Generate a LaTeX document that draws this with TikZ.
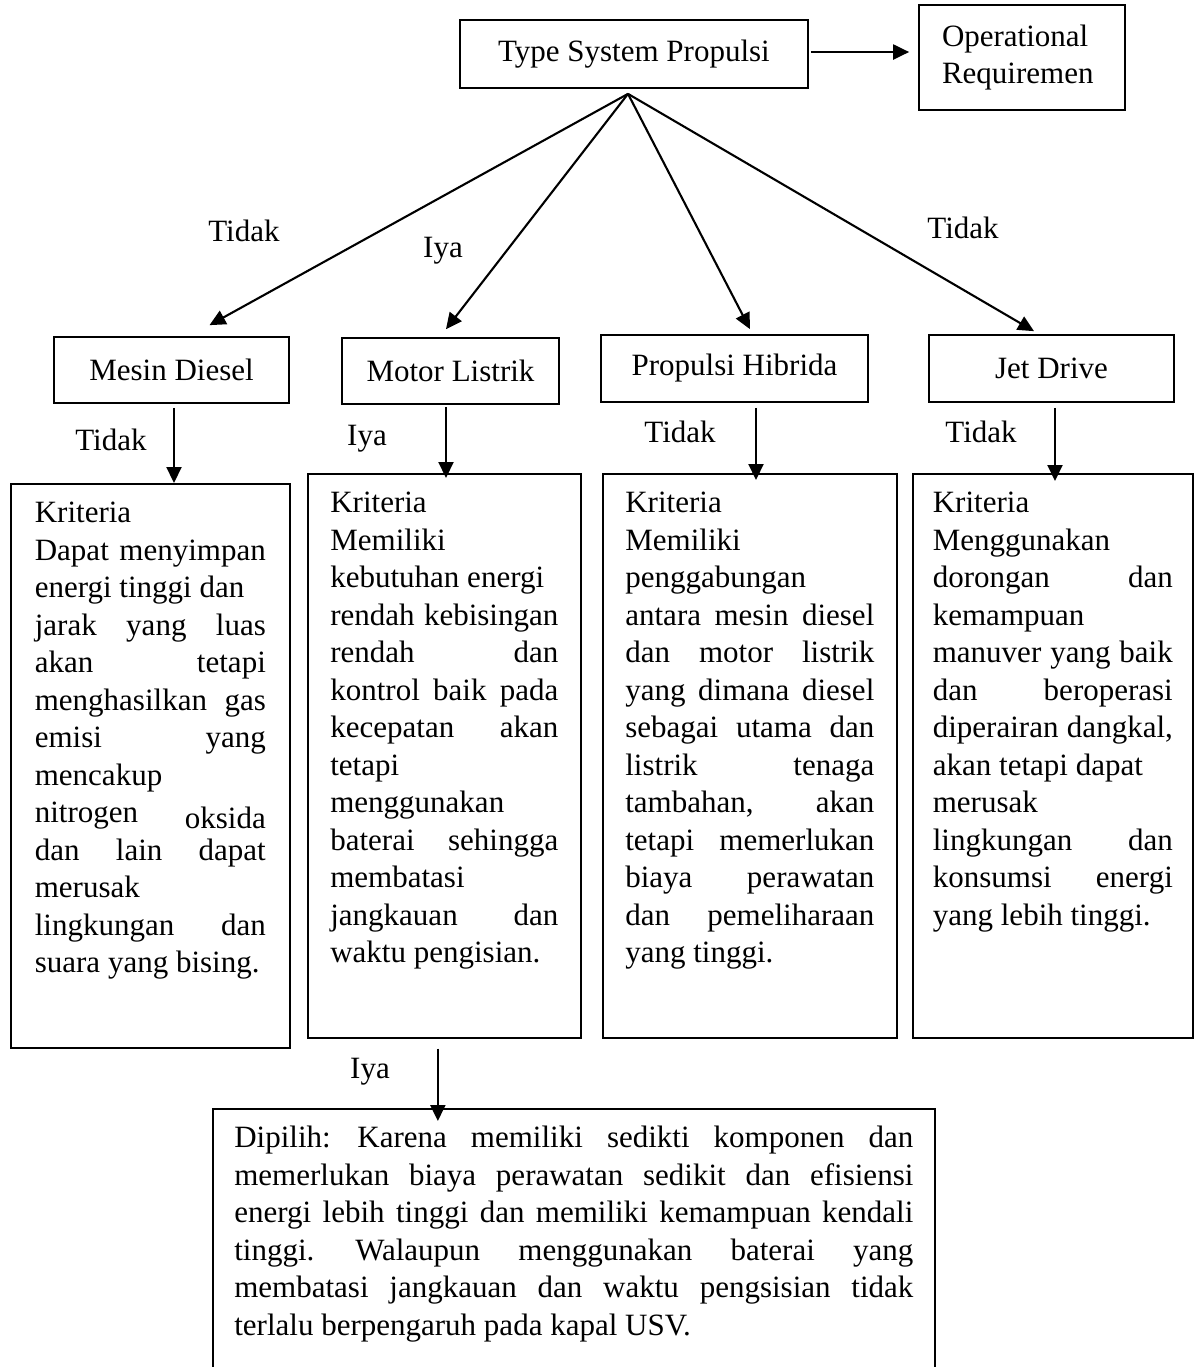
\documentclass[tikz,border=0pt]{standalone}
\usepackage{fontspec}
\setmainfont{Liberation Serif}
\usetikzlibrary{arrows.meta,calc}
\newcommand{\critbox}[3]{\parbox[c][#2][t]{#1}{\rule{0pt}{19.5pt}#3}}
\begin{document}
\begin{tikzpicture}[x=0.5pt,y=-0.5pt,
  every node/.style={font=\fontsize{15.5pt}{18.75pt}\selectfont},
  box/.style={draw,line width=0.85pt,inner sep=0pt},
  arr/.style={line width=1.05pt,-{Triangle[length=8pt,width=7.5pt]}},
  lbl/.style={anchor=base,inner sep=0pt}]
\useasboundingbox (0,0) rectangle (1195,1367);
\clip (0,0) rectangle (1195,1367);

% top level
\node[box,minimum width=174pt,minimum height=34pt] (top) at (634,54) {Type System Propulsi};
\node[box,minimum height=52.5pt,text width=80pt,inner xsep=11.5pt,align=left] (op) at (1022,57.5) {Operational\\Requiremen};

% second level
\node[box,minimum width=117.5pt,minimum height=33pt] (md) at (171.5,370) {Mesin Diesel};
\node[box,minimum width=108.5pt,minimum height=33pt] (ml) at (450.5,371) {Motor Listrik};
\node[box,minimum width=133.5pt,minimum height=33.5pt] (ph) at (734.5,368.5) {Propulsi Hibrida};
\node[box,minimum width=122.5pt,minimum height=33.5pt] (jd) at (1051.5,368.5) {Jet Drive};

% criteria boxes
\node[box,anchor=north west,inner xsep=12pt] (k1) at (10,483) {\critbox{115.5pt}{282pt}{Kriteria\\
Dapat \hfill menyimpan\\
energi tinggi dan\\
jarak \hfill yang \hfill luas\\
akan \hfill tetapi\\
menghasilkan \hfill gas\\
emisi \hfill yang\\
mencakup\\
nitrogen \hfill \raisebox{-3pt}{oksida}\\
dan \hfill lain \hfill dapat\\
merusak\\
lingkungan \hfill dan\\
suara yang bising.}};

\node[box,anchor=north west,inner xsep=11.25pt] (k2) at (307,473) {\critbox{114pt}{282pt}{Kriteria\\
Memiliki\\
kebutuhan energi\\
rendah \hfill kebisingan\\
rendah \hfill dan\\
kontrol \hfill baik \hfill pada\\
kecepatan \hfill akan\\
tetapi\\
menggunakan\\
baterai \hfill sehingga\\
membatasi\\
jangkauan \hfill dan\\
waktu pengisian.}};

\node[box,anchor=north west,inner xsep=11.25pt] (k3) at (602,473) {\critbox{124.5pt}{282pt}{Kriteria\\
Memiliki\\
penggabungan\\
antara \hfill mesin \hfill diesel\\
dan \hfill motor \hfill listrik\\
yang \hfill dimana \hfill diesel\\
sebagai \hfill utama \hfill dan\\
listrik \hfill tenaga\\
tambahan, \hfill akan\\
tetapi \hfill memerlukan\\
biaya \hfill perawatan\\
dan \hfill pemeliharaan\\
yang tinggi.}};

\node[box,anchor=north west,inner xsep=10pt] (k4) at (912,473) {\critbox{120pt}{282pt}{Kriteria\\
Menggunakan\\
dorongan \hfill dan\\
kemampuan\\
manuver \hfill yang \hfill baik\\
dan \hfill beroperasi\\
diperairan \hfill dangkal,\\
akan tetapi dapat\\
merusak\\
lingkungan \hfill dan\\
konsumsi \hfill energi\\
yang lebih tinggi.}};

% final box
\node[box,anchor=north west,inner xsep=10.75pt] (fin) at (212,1108) {\critbox{339.5pt}{146pt}{Dipilih: \hfill Karena \hfill memiliki \hfill sedikti \hfill komponen \hfill dan\\
memerlukan \hfill biaya \hfill perawatan \hfill sedikit \hfill dan \hfill efisiensi\\
energi \hfill lebih \hfill tinggi \hfill dan \hfill memiliki \hfill kemampuan \hfill kendali\\
tinggi. \hfill Walaupun \hfill menggunakan \hfill baterai \hfill yang\\
membatasi \hfill jangkauan \hfill dan \hfill waktu \hfill pengsisian \hfill tidak\\
terlalu berpengaruh pada kapal USV.}};

% labels
\node[lbl] (l1) at (244,241) {Tidak};
\node[lbl] (l2) at (443,257) {Iya};
\node[lbl] (l3) at (963,238) {Tidak};
\node[lbl] (l4) at (111,450) {Tidak};
\node[lbl] (l5) at (367,445) {Iya};
\node[lbl] (l6) at (680,442) {Tidak};
\node[lbl] (l7) at (981,442) {Tidak};
\node[lbl] (l8) at (370,1078) {Iya};

% connectors
\coordinate (apex) at ($(top.south)+(-6,5)$);
\draw[arr] ($(top.east)+(2,-2)$) -- ($(top.east -| op.west)+(-9,-2)$);
\draw[arr] (apex) -- ($(md.north)+(38,-11)$);
\draw[arr] (apex) -- ($(ml.north)+(-4.5,-8)$);
\draw[arr] (apex) -- ($(ph.north)+(15.5,-5)$);
\draw[arr] (apex) -- ($(jd.north)+(-17.5,-3)$);

\draw[arr] ($(md.south)+(2.5,4)$) -- ($(md.south |- k1.north)+(2.5,0)$);
\draw[arr] ($(ml.south)+(-4.5,2)$) -- ($(ml.south |- k2.north)+(-4.5,5)$);
\draw[arr] ($(ph.south)+(21.5,5)$) -- ($(ph.south |- k3.north)+(21.5,7)$);
\draw[arr] ($(jd.south)+(3.5,5)$) -- ($(jd.south |- k4.north)+(3.5,8)$);

\draw[arr] ($(k2.south)+(-6.5,10)$) -- ($(k2.south |- fin.north)+(-6.5,13)$);
\end{tikzpicture}
\end{document}
